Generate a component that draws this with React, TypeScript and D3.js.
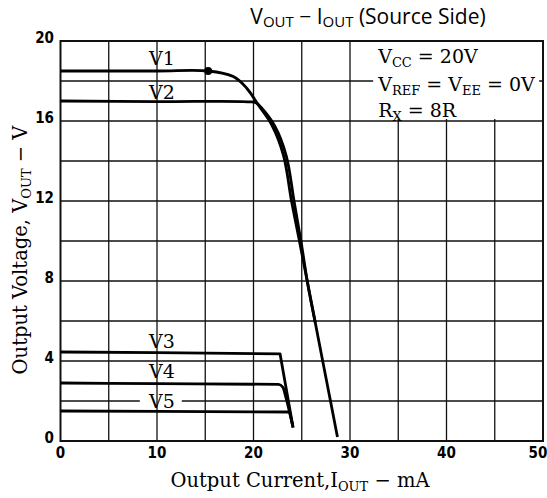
import { useRef, useEffect } from 'react';
import * as d3 from 'd3';

type Pt = [number, number];

// Output current (mA) vs output voltage (V)
const V1: Pt[] = [
  [0, 18.5], [10, 18.5], [15.3, 18.5], [17.9, 18.22], [19.3, 17.64], [20.5, 16.8], [21.9, 15.8],
  [23.1, 14.3], [23.95, 11.97], [24.8, 9.9], [25.6, 7.91], [26.4, 5.92], [27.2, 3.93], [28.7, 0.2],
];
const V2: Pt[] = [
  [0, 17.0], [10, 16.97], [19.6, 16.96], [20.3, 16.9], [20.75, 16.7], [22.2, 15.75], [23.4, 14.25],
  [24.2, 12.0], [24.95, 9.9], [25.6, 7.91], [26.4, 5.92],
];
const V3: Pt[] = [[0, 4.45], [10, 4.42], [22.75, 4.36], [24.1, 0.67]];
const V4: Pt[] = [[0, 2.9], [10, 2.87], [22.6, 2.83], [23.05, 2.68], [23.35, 2.2], [24.1, 0.67]];
const V5: Pt[] = [[0, 1.5], [10, 1.48], [23.75, 1.45], [24.05, 0.8]];
const KNEE: Pt = [15.3, 18.5];

const SERIES = [
  { name: 'V1', pts: V1, labelY: 18.8 },
  { name: 'V2', pts: V2, labelY: 17.1 },
  { name: 'V3', pts: V3, labelY: 4.65 },
  { name: 'V4', pts: V4, labelY: 3.15 },
  { name: 'V5', pts: V5, labelY: 1.65 },
];

const X_LABELS = [0, 10, 20, 30, 40, 50];
const Y_LABELS = [0, 4, 8, 12, 16, 20];

const SERIF = "'DejaVu Serif', serif";
const SANS_NARROW = "'DejaVu Sans Condensed', 'DejaVu Sans', sans-serif";

export default function App() {
  const svgRef = useRef<SVGSVGElement>(null);

  useEffect(() => {
    if (!svgRef.current) return;
    const svg = d3.select(svgRef.current);
    svg.selectAll('*').remove();

    const width = 547;
    const height = 498;
    const margin = { top: 41, right: 4, bottom: 57, left: 60.5 };

    const x = d3.scaleLinear().domain([0, 50]).range([margin.left, width - margin.right]);
    const y = d3.scaleLinear().domain([0, 20]).range([height - margin.bottom, margin.top]);

    svg.append('rect').attr('width', width).attr('height', height).attr('fill', '#fff');

    // horizontal grid
    svg.append('g')
      .selectAll('line')
      .data(y.ticks(10).filter((d) => d > 0 && d < 20))
      .join('line')
      .attr('x1', x(0)).attr('x2', x(50))
      .attr('y1', (d) => y(d)).attr('y2', (d) => y(d))
      .attr('stroke', '#111').attr('stroke-width', 1.3);

    // labels V4 / V5 break the grid line behind them
    const lx = x(10.5);
    for (const s of SERIES.filter((s) => s.name === 'V4' || s.name === 'V5')) {
      svg.append('rect')
        .attr('x', lx - 22).attr('y', y(s.labelY) - 16)
        .attr('width', 42).attr('height', 18)
        .attr('fill', '#fff');
    }

    // vertical grid
    svg.append('g')
      .selectAll('line')
      .data(x.ticks(10).filter((d) => d > 0 && d < 50))
      .join('line')
      .attr('x1', (d) => x(d)).attr('x2', (d) => x(d))
      .attr('y1', y(0)).attr('y2', y(20))
      .attr('stroke', '#111').attr('stroke-width', 1.3);

    // conditions box
    svg.append('rect')
      .attr('x', x(32.4)).attr('y', y(20) + 1)
      .attr('width', x(49.6) - x(32.4)).attr('height', y(16.1) - y(20) - 1)
      .attr('fill', '#fff');

    // frame
    svg.append('rect')
      .attr('x', x(0)).attr('y', y(20))
      .attr('width', x(50) - x(0)).attr('height', y(0) - y(20))
      .attr('fill', 'none').attr('stroke', '#111').attr('stroke-width', 2);

    // curves
    const smooth = d3.line<Pt>().x((d) => x(d[0])).y((d) => y(d[1])).curve(d3.curveCatmullRom.alpha(0.5));
    const mono = d3.line<Pt>().x((d) => x(d[0])).y((d) => y(d[1])).curve(d3.curveMonotoneX);
    const straight = d3.line<Pt>().x((d) => x(d[0])).y((d) => y(d[1]));
    const shape: Record<string, d3.Line<Pt>> = { V1: smooth, V2: smooth, V3: straight, V4: mono, V5: straight };
    for (const s of SERIES) {
      svg.append('path')
        .datum(s.pts)
        .attr('d', shape[s.name])
        .attr('fill', 'none')
        .attr('stroke', '#000')
        .attr('stroke-width', 2.8)
        .attr('stroke-linejoin', 'round');
    }
    svg.append('circle').attr('cx', x(KNEE[0])).attr('cy', y(KNEE[1])).attr('r', 4).attr('fill', '#000');

    // curve labels
    svg.append('g')
      .selectAll('text')
      .data(SERIES)
      .join('text')
      .attr('x', lx).attr('y', (d) => y(d.labelY))
      .attr('text-anchor', 'middle')
      .style('font-family', SERIF).style('font-size', '19px')
      .text((d) => d.name);

    // tick labels
    svg.append('g')
      .selectAll('text')
      .data(X_LABELS)
      .join('text')
      .attr('x', (d) => x(d) - (d === 50 ? 5 : 0))
      .attr('y', y(0) + 17)
      .attr('text-anchor', 'middle')
      .style('font-family', SANS_NARROW).style('font-stretch', 'condensed')
      .style('font-weight', 'bold').style('font-size', '15px')
      .text((d) => d);

    svg.append('g')
      .selectAll('text')
      .data(Y_LABELS)
      .join('text')
      .attr('x', 54)
      .attr('y', (d) => y(d) + 2)
      .attr('text-anchor', 'end')
      .style('font-family', SANS_NARROW).style('font-stretch', 'condensed')
      .style('font-weight', 'bold').style('font-size', '15px')
      .text((d) => d);

    // conditions text
    const cond = svg.append('g').style('font-family', SERIF).style('font-size', '19px');
    const bx = x(32.4) + 5;
    const c1 = cond.append('text').attr('x', bx).attr('y', 63);
    c1.append('tspan').text('V');
    c1.append('tspan').attr('dy', 4).style('font-size', '13px').text('CC');
    c1.append('tspan').attr('dy', -4).text(' = 20V');
    const c2 = cond.append('text').attr('x', bx).attr('y', 91);
    c2.append('tspan').text('V');
    c2.append('tspan').attr('dy', 4).style('font-size', '13px').text('REF');
    c2.append('tspan').attr('dy', -4).text(' = V');
    c2.append('tspan').attr('dy', 4).style('font-size', '13px').text('EE');
    c2.append('tspan').attr('dy', -4).text(' = 0V');
    const c3 = cond.append('text').attr('x', bx).attr('y', 117);
    c3.append('tspan').text('R');
    c3.append('tspan').attr('dy', 4).style('font-size', '13px').text('X');
    c3.append('tspan').attr('dy', -4).text(' = 8R');

    // title
    const t = svg.append('text')
      .attr('x', 368).attr('y', 24)
      .attr('text-anchor', 'middle')
      .style('font-family', "'Open Sans', sans-serif").style('font-size', '21px');
    t.append('tspan').text('V');
    t.append('tspan').attr('dy', 3).style('font-size', '15px').text('OUT');
    t.append('tspan').attr('dy', -3).text('  −  I');
    t.append('tspan').attr('dy', 3).style('font-size', '15px').text('OUT');
    t.append('tspan').attr('dy', -3).text(' (Source Side)');

    // axis titles
    const xt = svg.append('text')
      .attr('x', 300).attr('y', 487)
      .attr('text-anchor', 'middle')
      .style('font-family', SERIF).style('font-size', '19.5px');
    xt.append('tspan').text('Output Current,I');
    xt.append('tspan').attr('dy', 4).style('font-size', '13px').text('OUT');
    xt.append('tspan').attr('dy', -4).text(' − mA');

    const yt = svg.append('text')
      .attr('transform', `translate(27,250) rotate(-90)`)
      .attr('text-anchor', 'middle')
      .style('font-family', SERIF).style('font-size', '19.5px');
    yt.append('tspan').text('Output Voltage, V');
    yt.append('tspan').attr('dy', 4).style('font-size', '13px').text('OUT');
    yt.append('tspan').attr('dy', -4).text(' − V');
  }, []);

  return (
    <svg
      ref={svgRef}
      width={547}
      height={498}
      style={{ position: 'absolute', left: 0, top: 0, display: 'block' }}
    />
  );
}
